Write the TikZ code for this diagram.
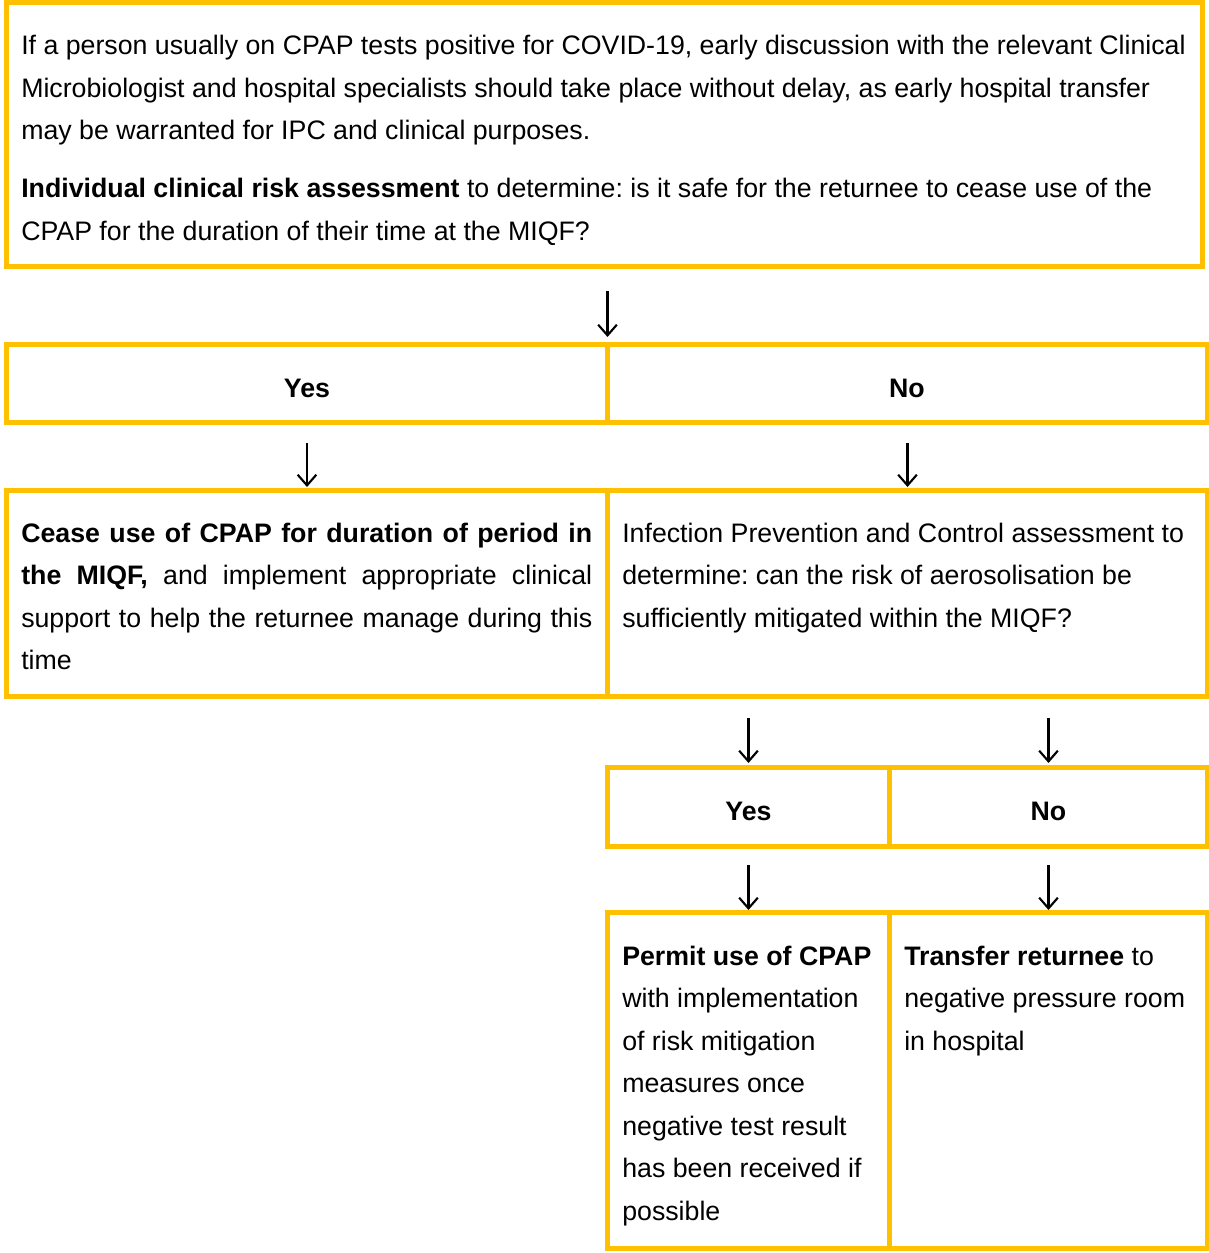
\documentclass[tikz,border=0pt]{standalone}
\usepackage{fontspec}
\setmainfont{Liberation Sans}
\usetikzlibrary{arrows.meta}
\definecolor{cellgold}{HTML}{FFC000}
\newcommand\celltext{\fontsize{20.05pt}{31.9pt}\selectfont\frenchspacing}
% a boxed cell given by its corner coordinates (x1,y1) and (x2,y2)
\newcommand\cellnode[5]{%
  \node[cellbox,minimum width={(#4-#2)*0.75pt},minimum height={(#5-#3)*0.75pt}] (#1) at (#2,#3) {};}
% a fully justified line of the given width
\newcommand\jline[1]{\makebox[428.25pt][s]{#1}}

\begin{document}
\begin{tikzpicture}[x=0.75pt,y=-0.75pt,
  cellbox/.style={draw=cellgold,line width=3.75pt,inner sep=0pt,outer sep=0pt,anchor=north west},
  txt/.style={inner sep=0pt,anchor=base west,align=flush left,text width=1200pt,font=\celltext},
  ans/.style={inner sep=0pt,anchor=base,font=\celltext\bfseries},
  arr/.style={line width=1.6pt,-{Straight Barb[length=8pt,width=14pt]}}]
\useasboundingbox (0,0) rectangle (1208,1253);

% cells
\cellnode{top}{6.5}{2}{1202}{266}
\cellnode{yesA}{6.5}{344}{607.5}{422}
\cellnode{noA}{607.5}{344}{1207.5}{422}
\cellnode{cease}{6.5}{490}{607.5}{696}
\cellnode{ipc}{607.5}{490}{1207.5}{696}
\cellnode{yesB}{607.5}{767}{889.5}{846}
\cellnode{noB}{889.5}{767}{1207.5}{846}
\cellnode{permit}{607.5}{912}{889.5}{1248}
\cellnode{transfer}{889.5}{912}{1207.5}{1248}

% texts
\node[txt] (introtext) at (21,54.5) {If a person usually on CPAP tests positive for COVID-19, early discussion with the relevant Clinical\\
Microbiologist and hospital specialists should take place without delay, as early hospital transfer\\
may be warranted for IPC and clinical purposes.};
\node[txt] (risktext) at (21,197.5) {\textbf{Individual clinical risk assessment} to determine: is it safe for the returnee to cease use of the\\
CPAP for the duration of their time at the MIQF?};

\node[ans] (yesAtext) at (307,397) {Yes};
\node[ans] (noAtext) at (907,397) {No};

\node[txt] (ceasetext) at (21,542) {\jline{\textbf{Cease use of CPAP for duration of period in}}\\
\jline{\textbf{the MIQF,} and implement appropriate clinical}\\
\jline{support to help the returnee manage during this}\\
time};
\node[txt] (ipctext) at (622,542) {Infection Prevention and Control assessment to\\
determine: can the risk of aerosolisation be\\
sufficiently mitigated within the MIQF?};

\node[ans] (yesBtext) at (748.5,820) {Yes};
\node[ans] (noBtext) at (1048.5,820) {No};

\node[txt] (permittext) at (622,965) {\textbf{Permit use of CPAP}\\
with implementation\\
of risk mitigation\\
measures once\\
negative test result\\
has been received if\\
possible};
\node[txt] (transfertext) at (904,965) {\textbf{Transfer returnee} to\\
negative pressure room\\
in hospital};

% connectors
\draw[arr,shorten <=18.75pt,shorten >=5.25pt] (top.south -| yesA.north east) -- (yesA.north east);
\draw[arr,shorten <=15.75pt,shorten >=2.25pt] (yesA.south) -- (cease.north);
\draw[arr,shorten <=15.75pt,shorten >=2.25pt] (noA.south) -- (noA.south |- ipc.north);
\draw[arr,shorten <=16.5pt,shorten >=3pt] (yesB.north |- ipc.south) -- (yesB.north);
\draw[arr,shorten <=16.5pt,shorten >=3pt] (noB.north |- ipc.south) -- (noB.north);
\draw[arr,shorten <=14.25pt,shorten >=1.5pt] (yesB.south) -- (permit.north);
\draw[arr,shorten <=14.25pt,shorten >=1.5pt] (noB.south) -- (transfer.north);
\end{tikzpicture}
\end{document}
